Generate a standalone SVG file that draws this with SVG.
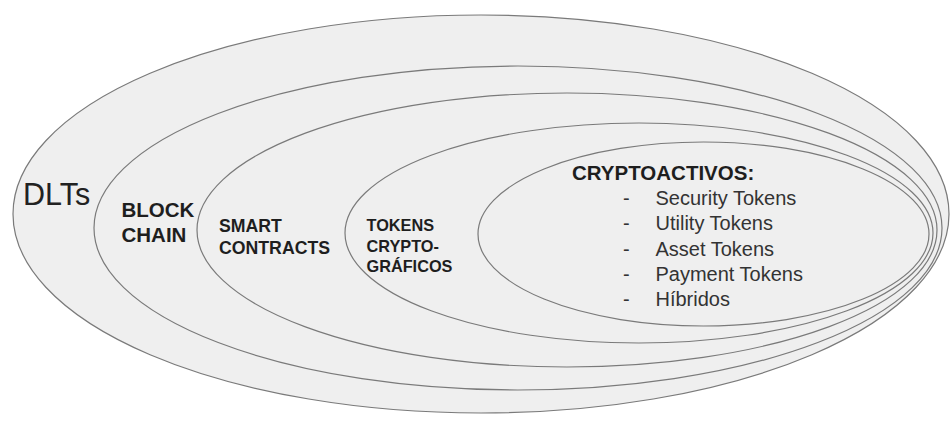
<svg xmlns="http://www.w3.org/2000/svg" width="952" height="421" viewBox="0 0 952 421">
<style>
.ring{fill:#efefef;stroke:#7a7a7a;stroke-width:1.2}
.lbl{font-family:"Liberation Sans",Arial,sans-serif;font-weight:bold;fill:#1e1e1e}
.item{font-family:"Liberation Sans",Arial,sans-serif;font-size:20px;fill:#333}
</style>
<rect x="0" y="0" width="952" height="421" fill="#ffffff"/>
<g id="dlts">
<ellipse class="ring" cx="481" cy="214" rx="468" ry="199"/>
<text x="23" y="205" font-family="Liberation Sans, Arial, sans-serif" font-size="30.5" fill="#222">DLTs</text>
</g>
<g id="blockchain">
<ellipse class="ring" cx="518" cy="228" rx="424" ry="162"/>
<text class="lbl" font-size="20.5"><tspan x="121.5" y="217">BLOCK</tspan><tspan x="121.5" y="242">CHAIN</tspan></text>
</g>
<g id="smart-contracts">
<ellipse class="ring" cx="567" cy="230" rx="370" ry="137"/>
<text class="lbl" font-size="17.7"><tspan x="219" y="231.5">SMART</tspan><tspan x="219" y="254">CONTRACTS</tspan></text>
</g>
<g id="tokens">
<ellipse class="ring" cx="639" cy="233" rx="294" ry="110"/>
<text class="lbl" font-size="16.3"><tspan x="366.5" y="230.5">TOKENS</tspan><tspan x="366.5" y="252">CRYPTO-</tspan><tspan x="366.5" y="271.5">GRÁFICOS</tspan></text>
</g>
<g id="cryptoactivos">
<ellipse class="ring" cx="703.5" cy="234" rx="225.5" ry="92"/>
<text class="lbl" x="572" y="180" font-size="20.5">CRYPTOACTIVOS:</text>
<g class="item">
<text x="623" y="205">-</text><text x="655.5" y="205">Security Tokens</text>
<text x="623" y="230">-</text><text x="655.5" y="230">Utility Tokens</text>
<text x="623" y="255.5">-</text><text x="655.5" y="255.5">Asset Tokens</text>
<text x="623" y="281">-</text><text x="655.5" y="281">Payment Tokens</text>
<text x="623" y="306">-</text><text x="655.5" y="306">Híbridos</text>
</g>
</g>
</svg>
